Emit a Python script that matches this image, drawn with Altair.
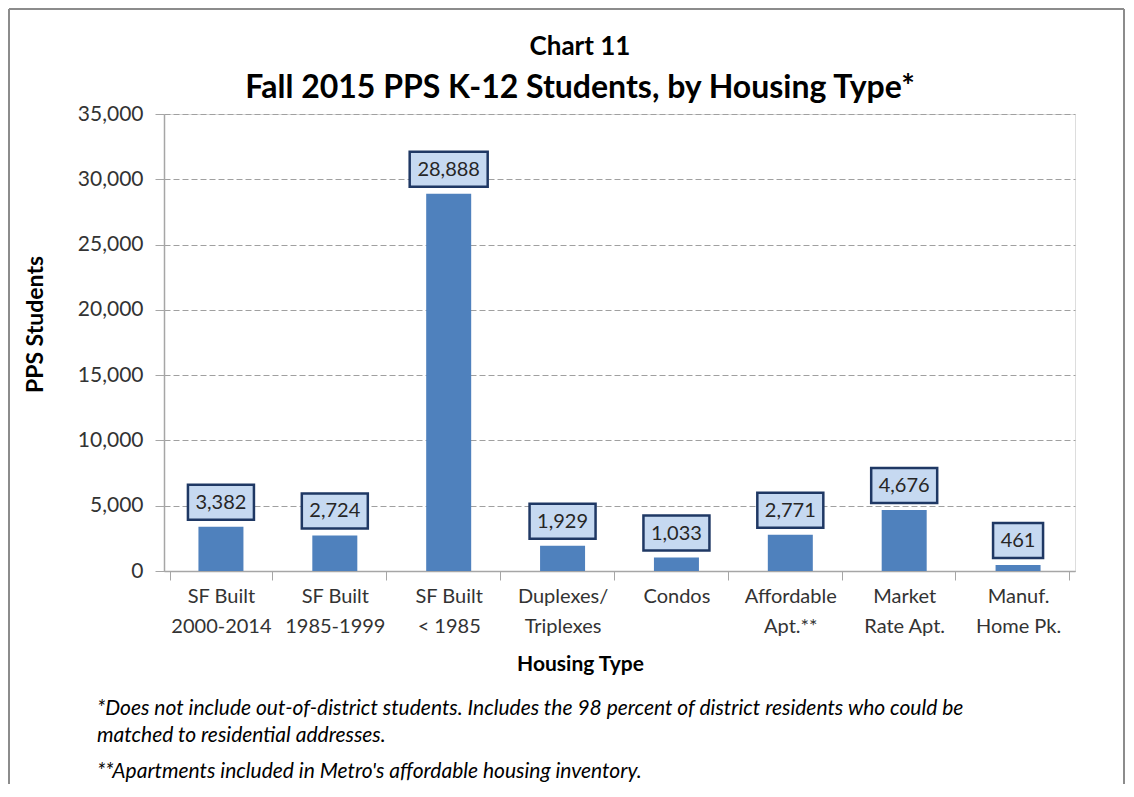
import altair as alt
import pandas as pd

categories = ["SF Built|2000-2014", "SF Built|1985-1999", "SF Built|< 1985",
              "Duplexes/|Triplexes", "Condos", "Affordable|Apt.**",
              "Market|Rate Apt.", "Manuf.|Home Pk."]
students = [3382, 2724, 28888, 1929, 1033, 2771, 4676, 461]
y_ticks = [0, 5000, 10000, 15000, 20000, 25000, 30000, 35000]
chart_label = ["Chart 11"]
chart_title = ["Fall 2015 PPS K-12 Students, by Housing Type*"]
footnote_1 = ["*Does not include out-of-district students.  Includes the 98 percent of district residents who could be",
              "matched to residential addresses."]
footnote_2 = ["**Apartments included in Metro's affordable housing inventory."]

FONT = "Lato"
df = pd.DataFrame({"cat": categories, "val": students})

x_enc = alt.X("cat:N", sort=None,
              axis=alt.Axis(title="Housing Type", labelAngle=0,
                            labelExpr="split(datum.label, '|')",
                            labelLineHeight=30, labelFontSize=20, labelFont=FONT,
                            labelColor="#333333", labelPadding=6,
                            tickBand="extent", tickSize=9, tickColor="#A6A6A6",
                            domainColor="#A6A6A6", domainWidth=1.5,
                            titleFont=FONT, titleFontSize=21, titleFontWeight="bold",
                            titleColor="#000000", titleX=416, titleY=93,
                            titleBaseline="middle", titleAlign="center"))

y_enc = alt.Y("val:Q",
              scale=alt.Scale(domain=[0, 35000], nice=False),
              axis=alt.Axis(title="PPS Students", values=y_ticks, format=",.0f",
                            labelFontSize=21, labelFont=FONT, labelColor="#333333",
                            labelPadding=12, tickSize=9, tickColor="#A6A6A6",
                            domainColor="#A6A6A6", domainWidth=1.5,
                            grid=True, gridDash=[6, 3], gridColor="#A0A0A0",
                            titleFont=FONT, titleFontSize=23, titleFontWeight="bold",
                            titleColor="#000000", titleX=-129, titleY=210,
                            titleAngle=-90, titleAlign="center",
                            titleBaseline="middle"))

bars = alt.Chart(df).mark_bar(color="#4F81BD", size=45).encode(x=x_enc, y=y_enc)

boxes = alt.Chart(df).transform_calculate(
    lbl="format(datum.val, ',')"
).transform_calculate(
    boxw="12*length(replace(datum.lbl, ',', '')) + (indexof(datum.lbl, ',') >= 0 ? 4 : 0) + 14"
).mark_bar(fill="#C6D9F1", stroke="#1F3864", strokeWidth=2.5,
           yOffset=-7, y2Offset=-42).encode(
    x=alt.X("cat:N", sort=None),
    y="val:Q", y2="val:Q",
    size=alt.Size("boxw:Q", scale=None, legend=None))

labels = alt.Chart(df).mark_text(font=FONT, fontSize=20, color="#262626",
                                 baseline="middle", dy=-24).encode(
    x=alt.X("cat:N", sort=None), y="val:Q",
    text=alt.Text("val:Q", format=","))

title1 = alt.Chart(pd.DataFrame({"t": chart_label})).mark_text(
    font=FONT, fontSize=26, fontWeight="bold", color="#000000",
    align="center", baseline="middle").encode(
    x=alt.value(416), y=alt.value(-67), text="t")
title2 = alt.Chart(pd.DataFrame({"t": chart_title})).mark_text(
    font=FONT, fontSize=32, fontWeight="bold", color="#000000",
    align="center", baseline="middle").encode(
    x=alt.value(416), y=alt.value(-26), text="t")

notes1 = alt.Chart(pd.DataFrame({"t": [footnote_1]})).mark_text(
    font=FONT, fontSize=21, fontStyle="italic", align="left", baseline="middle",
    lineHeight=27, color="#000000").encode(
    x=alt.value(-67), y=alt.value(595), text="t")
notes2 = alt.Chart(pd.DataFrame({"t": footnote_2})).mark_text(
    font=FONT, fontSize=21, fontStyle="italic", align="left", baseline="middle",
    color="#000000").encode(
    x=alt.value(-67), y=alt.value(658), text="t")

border_df = pd.DataFrame({"k": [0]})
b_left = alt.Chart(border_df).mark_rule(color="#8C8C8C", strokeWidth=2).encode(
    x=alt.value(-155), y=alt.value(-105), y2=alt.value(680))
b_right = alt.Chart(border_df).mark_rule(color="#8C8C8C", strokeWidth=2).encode(
    x=alt.value(960), y=alt.value(-105), y2=alt.value(680))
b_top = alt.Chart(border_df).mark_rule(color="#8C8C8C", strokeWidth=2).encode(
    x=alt.value(-155), x2=alt.value(960), y=alt.value(-105))

chart = alt.layer(bars, boxes, labels, title1, title2, notes1, notes2,
                  b_left, b_right, b_top).properties(
    width=911, height=457,
    autosize=alt.AutoSizeParams(type="none"),
    padding={"left": 156, "top": 106, "right": 50, "bottom": 213},
).configure_view(stroke=None).configure(background="#FFFFFF")

chart.save("out.html", embed_options={"renderer": "svg", "actions": False})
